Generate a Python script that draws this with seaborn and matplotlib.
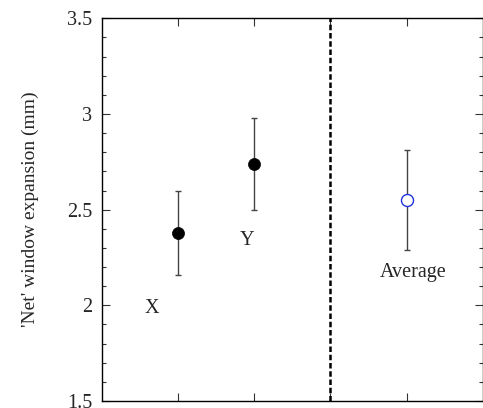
import matplotlib
matplotlib.use("Agg")
import matplotlib.pyplot as plt
import seaborn as sns
import pandas as pd
import numpy as np

# Data
groups = ["X", "Y", "Average"]
positions = [1, 2, 4]
means = [2.38, 2.74, 2.55]
upper = [2.60, 2.98, 2.81]
lower = [2.16, 2.50, 2.29]
label_pos_x = [0.66, 1.91, 4.08]
label_pos_y = [1.985, 2.34, 2.17]
yticks = [1.5, 2, 2.5, 3, 3.5]
ytick_labels = ["1.5", "2", "2.5", "3", "3.5"]
divider_x = 3

sns.set_style("ticks")
plt.rcParams["font.family"] = ["Liberation Serif", "DejaVu Serif"]

df = pd.DataFrame({"group": groups, "x": positions, "mean": means,
                   "upper": upper, "lower": lower})

fig = plt.figure(figsize=(4.83, 4.08), dpi=100)
ax = fig.add_axes([101.7 / 483, 1 - 401 / 408, (482.8 - 101.7) / 483, (401 - 18.3) / 408])

# error bars
err_lo = df["mean"] - df["lower"]
err_hi = df["upper"] - df["mean"]
ax.errorbar(df["x"], df["mean"], yerr=[err_lo, err_hi], fmt="none",
            ecolor="#444444", elinewidth=1.0, capsize=2.5, capthick=1.0, zorder=2)

# points
filled = df[df["group"] != "Average"]
avg = df[df["group"] == "Average"]
sns.scatterplot(data=filled, x="x", y="mean", ax=ax, s=75, color="black",
                edgecolor="black", linewidth=0.5, zorder=3, legend=False)
sns.scatterplot(data=avg, x="x", y="mean", ax=ax, s=75, facecolor="white",
                edgecolor="#2233dd", linewidth=1.0, zorder=3, legend=False)

# divider
ax.axvline(divider_x, color="black", lw=1.8, dashes=(2.2, 1.1), zorder=1)

for g, lx, ly in zip(groups, label_pos_x, label_pos_y):
    ax.text(lx, ly, g, fontsize=14.5, ha="center", va="center")

ax.set_xlim(0, 5)
ax.set_ylim(1.5, 3.5)
ax.set_xticks([1, 2, 3, 4])
ax.set_xticklabels([])
ax.set_yticks(yticks)
ax.set_yticklabels(ytick_labels)
ax.set_yticks(np.arange(1.6, 3.5, 0.1), minor=True)
ax.tick_params(axis="both", which="major", direction="in", length=6, width=0.8,
               top=True, right=True, labelsize=14.5, pad=7, color="#333333")
ax.tick_params(axis="y", which="minor", direction="in", length=3, width=0.8,
               left=True, right=True, color="#333333")
ax.set_xlabel("")
ax.set_ylabel("'Net' window expansion (mm)", fontsize=14, labelpad=20)
for s in ax.spines.values():
    s.set_linewidth(1.0)
    s.set_color("black")

fig.savefig("out.png", dpi=100)
